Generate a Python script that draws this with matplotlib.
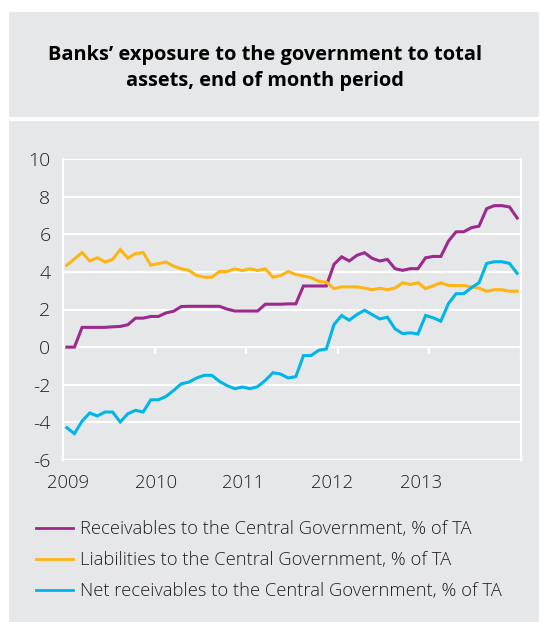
import matplotlib
matplotlib.use("Agg")
import matplotlib.pyplot as plt
from matplotlib.patches import Rectangle
import numpy as np

plt.rcParams['font.family'] = ['Open Sans', 'DejaVu Sans']

# ---------------- data ----------------
year_labels = ["2009", "2010", "2011", "2012", "2013"]

receivables = [0.0, 0.0, 1.05, 1.05, 1.05, 1.05, 1.08, 1.10, 1.19, 1.54, 1.54, 1.63,
               1.63, 1.82, 1.91, 2.16, 2.17, 2.17, 2.17, 2.17, 2.17, 2.02, 1.92, 1.92,
               1.92, 1.92, 2.28, 2.28, 2.28, 2.30, 2.30, 3.25, 3.25, 3.25, 3.25, 4.40,
               4.80, 4.58, 4.88, 5.02, 4.72, 4.58, 4.66, 4.17, 4.08, 4.17, 4.17, 4.75,
               4.82, 4.82, 5.64, 6.13, 6.13, 6.35, 6.43, 7.36, 7.52, 7.52, 7.45, 6.86]

liabilities = [4.35, 4.69, 5.03, 4.58, 4.75, 4.52, 4.66, 5.19, 4.73, 4.97, 5.03, 4.36,
               4.44, 4.52, 4.30, 4.16, 4.08, 3.81, 3.72, 3.72, 4.02, 4.02, 4.16, 4.07,
               4.16, 4.07, 4.16, 3.72, 3.80, 4.02, 3.86, 3.78, 3.69, 3.50, 3.45, 3.11,
               3.20, 3.20, 3.20, 3.14, 3.05, 3.13, 3.05, 3.14, 3.42, 3.33, 3.42, 3.11,
               3.26, 3.42, 3.28, 3.27, 3.27, 3.20, 3.14, 2.97, 3.05, 3.05, 2.97, 2.97]

net_receivables = [-4.28, -4.60, -3.93, -3.50, -3.66, -3.45, -3.45, -3.98, -3.54, -3.36, -3.45, -2.80,
                   -2.80, -2.62, -2.30, -1.95, -1.86, -1.64, -1.50, -1.50, -1.82, -2.05, -2.21, -2.12,
                   -2.21, -2.10, -1.77, -1.36, -1.43, -1.64, -1.57, -0.45, -0.45, -0.17, -0.10, 1.20,
                   1.68, 1.43, 1.73, 1.96, 1.73, 1.50, 1.59, 0.97, 0.72, 0.76, 0.70, 1.68,
                   1.56, 1.38, 2.32, 2.84, 2.84, 3.16, 3.42, 4.45, 4.54, 4.54, 4.45, 3.92]

series_names = ["Receivables to the Central Government, % of TA",
                "Liabilities to the Central Government, % of TA",
                "Net receivables to the Central Government, % of TA"]

title = "Banks\u2019 exposure to the government to total\nassets, end of month period"

# ---------------- style ----------------
GRAY = "#E6E7E8"
colors = ["#9C2A8E", "#FDB515", "#00B5EA"]
TEXT = "#231F20"

W, H = 542, 622
fig = plt.figure(figsize=(W / 100, H / 100), dpi=100)
fig.patch.set_facecolor("white")

# background panels
fig.add_artist(Rectangle((9 / W, 1 - 117 / H), 530 / W, 105 / H,
                         transform=fig.transFigure, facecolor=GRAY, edgecolor="none", zorder=0))
fig.add_artist(Rectangle((9 / W, 0), 530 / W, 1 - 121 / H,
                         transform=fig.transFigure, facecolor=GRAY, edgecolor="none", zorder=0))

fig.text(265 / W, 1 - 68 / H, title, ha="center", va="center", fontsize=14.4,
         fontweight="bold", color="black", linespacing=1.35)

ax = fig.add_axes([63 / W, 1 - 460 / H, 458 / W, 301 / H])
ax.set_facecolor(GRAY)

n = len(receivables)
x = np.arange(n)
lines = []
for vals, c, name in zip([receivables, liabilities, net_receivables], colors, series_names):
    ln, = ax.plot(x, vals, color=c, lw=2.2, label=name, solid_joinstyle="miter", zorder=3)
    lines.append(ln)

ax.set_xlim(-0.5, n - 0.5)
ax.set_ylim(-6, 10)
ax.set_yticks(np.arange(-6, 11, 2))
ax.grid(axis="y", color="white", lw=1.5, zorder=1)
ax.set_axisbelow(True)
for s in ["top", "bottom"]:
    ax.spines[s].set_visible(False)
for s in ["left", "right"]:
    ax.spines[s].set_color("white")
    ax.spines[s].set_linewidth(1.6)

ax.tick_params(axis="y", length=0, pad=9, labelsize=14, labelcolor=TEXT)
ax.set_yticklabels([str(v) for v in range(-6, 11, 2)], fontweight="light")

# category ticks on the zero line
tick_pos = np.arange(12, n + 1, 12) - 0.5
ax.vlines(tick_pos, -0.38, 0, color="white", lw=1.6, zorder=2)

ax.set_xticks([])
label_pos = [0.16, 11.7, 23.1, 34.7, 46.4]
for p, lab in zip(label_pos, year_labels):
    ax.text(p, -6.75, lab, transform=ax.transData, ha="center", va="top",
            fontsize=13.3, color=TEXT, fontweight="light")

leg = fig.legend(handles=lines, loc="upper left", bbox_to_anchor=(36 / W, 1 - 520 / H),
                 frameon=False, fontsize=13.2, handlelength=2.0, handletextpad=0.42,
                 labelspacing=0.72, borderpad=0, borderaxespad=0)
for h in leg.legend_handles:
    h.set_linewidth(2.0)
for t in leg.get_texts():
    t.set_color(TEXT)
    t.set_fontweight("light")

fig.savefig("out.png", dpi=100, facecolor="white")
